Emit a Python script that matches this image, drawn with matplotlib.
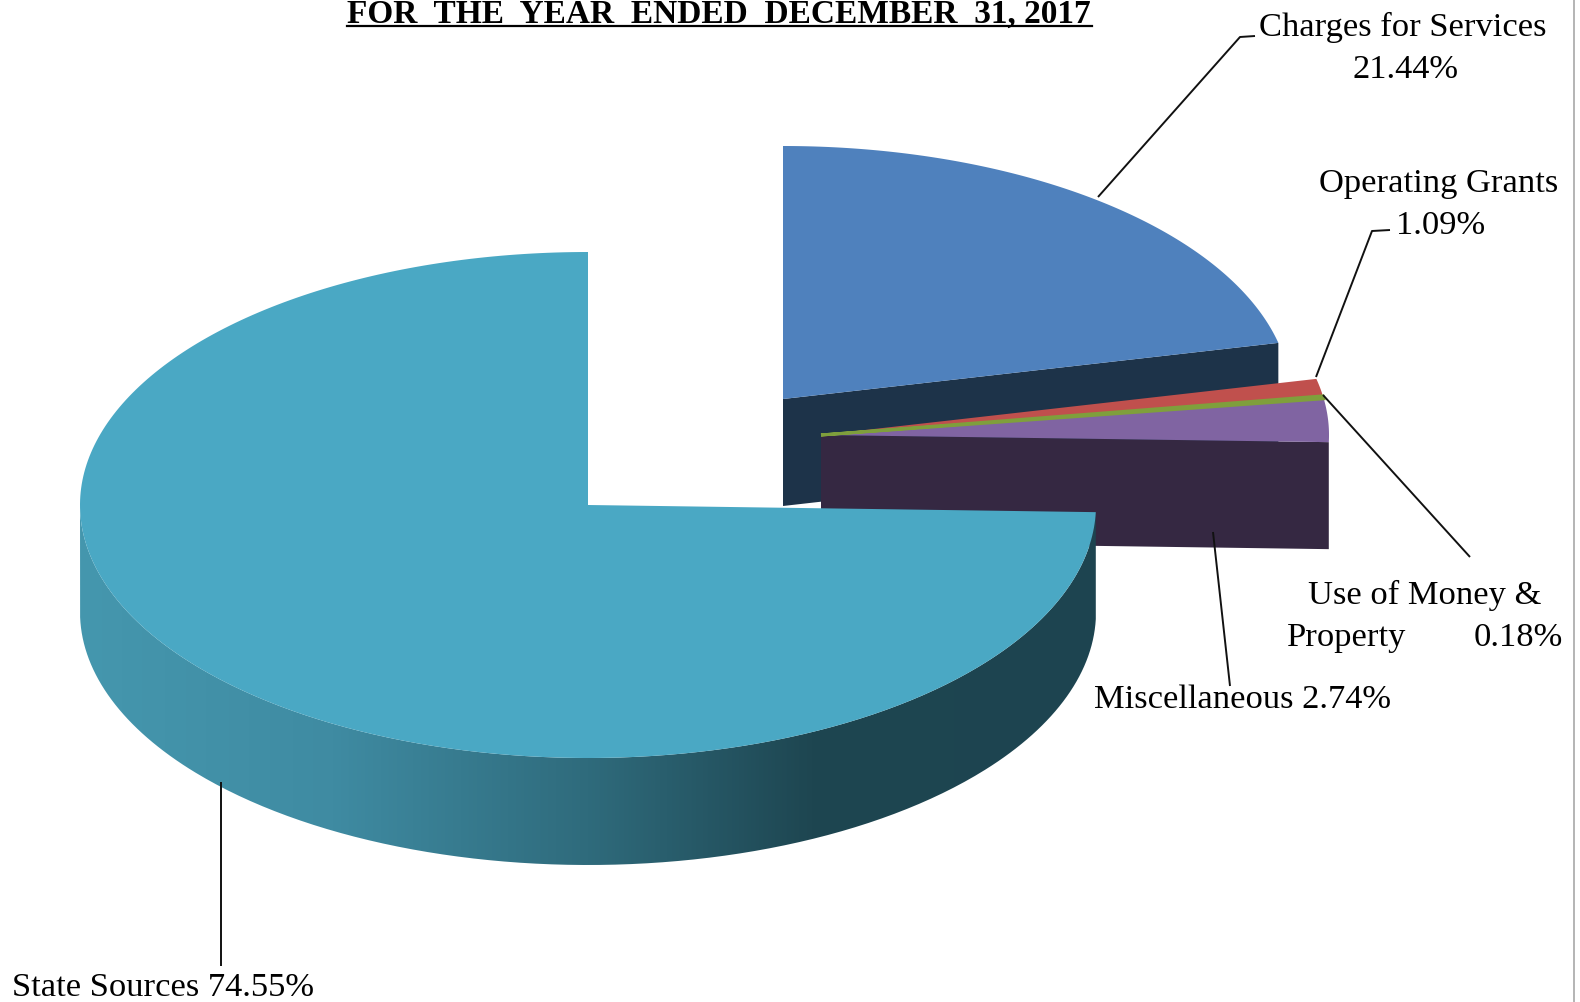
import matplotlib.pyplot as plt
import numpy as np
from matplotlib.colors import LinearSegmentedColormap
from matplotlib.patches import PathPatch
from matplotlib.path import Path

plt.rcParams["font.family"] = ["Liberation Serif", "DejaVu Serif"]

# Datos del grafico
categorias = [
    "Charges for Services",
    "Operating Grants",
    "Use of Money & Property",
    "Miscellaneous",
    "State Sources",
]
porcentajes = [21.44, 1.09, 0.18, 2.74, 74.55]
colores_cara = ["#4f81bd", "#c0504d", "#7f9f3c", "#8064a2", "#4aa8c4"]
bordes_cara = [0, 0, 2.2, 0, 0]

titulo = "FOR  THE  YEAR  ENDED  DECEMBER  31, 2017"

# Geometria de la torta en pixeles
rx, ry = 508, 253
alto = 107
centros = [(783, 400), (821, 436), (821, 436), (821, 436), (588, 506)]

# Angulos medidos en sentido horario desde las 12
limites = np.concatenate(([0], np.cumsum(porcentajes))) * 3.6


def arco(cx, cy, a0, a1, dy=0):
    t = np.radians(np.linspace(a0, a1, 300))
    return cx + rx * np.sin(t), cy - ry * np.cos(t) + dy


def cara_superior(ax, cx, cy, a0, a1, color, zorder, lw=0):
    x, y = arco(cx, cy, a0, a1)
    ax.fill(np.r_[cx, x], np.r_[cy, y], color=color, lw=lw, zorder=zorder)


def corte(ax, cx, cy, a, color, zorder):
    x, y = arco(cx, cy, a, a)
    ax.fill(
        [cx, x[0], x[0], cx],
        [cy, y[0], y[0] + alto, cy + alto],
        color=color,
        lw=0,
        zorder=zorder,
    )


fig = plt.figure(figsize=(15.8, 10.03), dpi=100)
ax = fig.add_axes([0, 0, 1, 1])

# Caras de corte oscuras
corte(ax, *centros[0], limites[1], "#1d3349", 1)
corte(ax, *centros[3], limites[4], "#352842", 3)

# Caras superiores de las porciones separadas
for i in range(4):
    cara_superior(
        ax,
        *centros[i],
        limites[i],
        limites[i + 1],
        colores_cara[i],
        2 if i == 0 else 4 + (i == 2),
        lw=bordes_cara[i],
    )

# Lateral de la porcion grande con degradado
cx, cy = centros[4]
x_sup, y_sup = arco(cx, cy, limites[4], 270)
x_inf, y_inf = arco(cx, cy, 270, limites[4], dy=alto)
borde = np.column_stack((np.r_[x_sup, x_inf], np.r_[y_sup, y_inf]))
degradado = LinearSegmentedColormap.from_list(
    "lateral",
    [(0.0, "#4597ae"), (0.25, "#3f8ba2"), (0.5, "#2f6b7c"), (0.72, "#1e4651"), (1.0, "#1d4450")],
)
imagen = ax.imshow(
    np.linspace(0, 1, 512).reshape(1, -1),
    cmap=degradado,
    extent=(x_sup.min() - 2, x_sup.max() + 2, 900, 400),
    aspect="auto",
    zorder=6,
)
imagen.set_clip_path(PathPatch(Path(borde), transform=ax.transData))

cara_superior(ax, cx, cy, limites[4], 360, colores_cara[4], 7)

# Lineas guia
guias = [
    ([1098, 198], [1240, 38], [1255, 37]),
    ([1316, 378], [1372, 232], [1390, 231]),
    ([1323, 396], [1470, 558]),
    ([1213, 533], [1230, 687]),
    ([221, 783], [221, 967]),
]
for guia in guias:
    xs, ys = zip(*guia)
    ax.plot(xs, ys, color="#111111", lw=1.4, zorder=8, solid_capstyle="butt")

# Rotulos
fs = 24.8
ax.text(1403, 36, "Charges for Services", fontsize=fs, ha="center", va="baseline")
ax.text(1405, 78, f"{porcentajes[0]:.2f}%", fontsize=fs, ha="center", va="baseline")
ax.text(1439, 192, "Operating Grants", fontsize=fs, ha="center", va="baseline")
ax.text(1441, 234, f"{porcentajes[1]:.2f}%", fontsize=fs, ha="center", va="baseline")
ax.text(1308, 604, "Use of Money &", fontsize=fs, ha="left", va="baseline")
ax.text(1287, 646, "Property", fontsize=fs, ha="left", va="baseline")
ax.text(1563, 646, f"{porcentajes[2]:.2f}%", fontsize=fs, ha="right", va="baseline")
ax.text(1094, 708, f"{categorias[3]} {porcentajes[3]:.2f}%", fontsize=fs, ha="left", va="baseline")
ax.text(12, 996, f"{categorias[4]} {porcentajes[4]:.2f}%", fontsize=fs, ha="left", va="baseline")

# Titulo subrayado, cortado por el borde superior
ax.text(719, 23, titulo, fontsize=24, fontweight="bold", ha="center", va="baseline")
ax.plot([347, 1092], [27, 27], color="black", lw=1.6, zorder=8)

# Borde derecho del marco
ax.plot([1574, 1574], [0, 1003], color="#a8a8a8", lw=1.2)

ax.set_xlim(0, 1580)
ax.set_ylim(1003, 0)
ax.axis("off")

fig.savefig("out.png", dpi=100)
